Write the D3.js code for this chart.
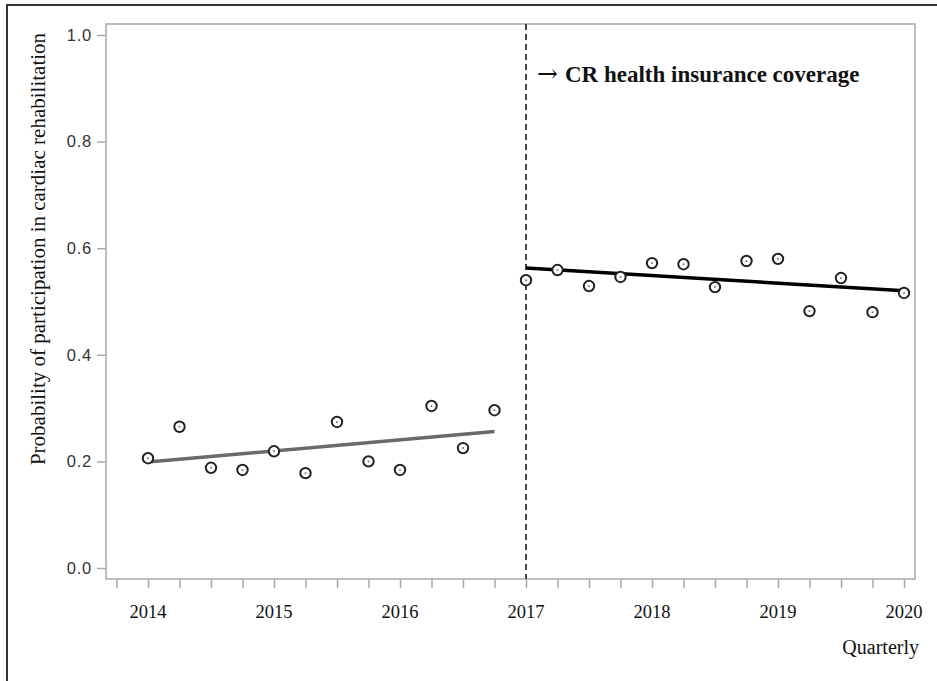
<!DOCTYPE html>
<html>
<head>
<meta charset="utf-8">
<script src="https://cdn.jsdelivr.net/npm/d3@7"></script>
<style>
  body { margin: 0; background: #fff; }
  svg { display: block; }
</style>
</head>
<body>
<div id="chart"></div>
<script>
// quarterly observations, before and after coverage (decimal year)
var preQuarters = [2014, 2014.25, 2014.5, 2014.75, 2015, 2015.25, 2015.5, 2015.75, 2016, 2016.25, 2016.5, 2016.75];
var preValues = [0.206, 0.265, 0.188, 0.184, 0.219, 0.178, 0.274, 0.200, 0.184, 0.304, 0.225, 0.296];
var postQuarters = [2017, 2017.25, 2017.5, 2017.75, 2018, 2018.25, 2018.5, 2018.75, 2019, 2019.25, 2019.5, 2019.75, 2020];
var postValues = [0.540, 0.559, 0.529, 0.546, 0.572, 0.570, 0.527, 0.576, 0.580, 0.482, 0.544, 0.480, 0.516];

// fitted trend endpoints
var preTrend = [[2014, 0.199], [2016.75, 0.256]];
var postTrend = [[2017, 0.563], [2020, 0.520]];

var yearTicks = [2014, 2015, 2016, 2017, 2018, 2019, 2020];
var quarterTicks = d3.range(2013.75, 2020.01, 0.25);
var yTicks = [0, 0.2, 0.4, 0.6, 0.8, 1.0];
var interventionYear = 2017;

var width = 937, height = 681;
var plot = { left: 106, top: 24, right: 915, bottom: 579 };
var serif = 'Liberation Serif, Times New Roman, serif';

var svg = d3.select('#chart').append('svg')
    .attr('width', width)
    .attr('height', height);

// outer frame (cut off at right and bottom)
svg.append('rect')
    .attr('x', 7).attr('y', 5)
    .attr('width', 960).attr('height', 700)
    .attr('fill', 'none')
    .attr('stroke', '#333')
    .attr('stroke-width', 2);

var x = d3.scaleLinear().domain([2014, 2020]).range([148, 904]);
var y = d3.scaleLinear().domain([0, 1]).range([568, 35]);

// plot frame
svg.append('rect')
    .attr('x', plot.left).attr('y', plot.top)
    .attr('width', plot.right - plot.left)
    .attr('height', plot.bottom - plot.top)
    .attr('fill', 'none')
    .attr('stroke', '#a8a8a8')
    .attr('stroke-width', 1.5);

// y axis
var yAxis = svg.append('g')
    .attr('transform', 'translate(' + plot.left + ',0)')
    .call(d3.axisLeft(y).tickValues(yTicks).tickSize(9).tickPadding(5)
      .tickFormat(d3.format('.1f')));
yAxis.select('.domain').remove();
yAxis.selectAll('.tick line').attr('stroke', '#a8a8a8').attr('stroke-width', 1.5);
yAxis.selectAll('.tick text')
    .attr('fill', '#333')
    .attr('font-family', 'Liberation Sans, Arial, sans-serif')
    .attr('font-size', 16.5)
    .style('letter-spacing', '0.8px');
yAxis.attr('font-size', 16.5);

// x axis: quarter ticks, year labels
var xAxis = svg.append('g')
    .attr('transform', 'translate(0,' + plot.bottom + ')')
    .call(d3.axisBottom(x).tickValues(quarterTicks).tickSize(9).tickFormat(''));
xAxis.select('.domain').remove();
xAxis.selectAll('.tick line').attr('stroke', '#a8a8a8').attr('stroke-width', 1.5);

svg.append('g').selectAll('text').data(yearTicks).enter().append('text')
    .attr('x', function(d) { return x(d); })
    .attr('y', 618)
    .attr('text-anchor', 'middle')
    .attr('font-family', serif)
    .attr('font-size', 18.5)
    .attr('fill', '#111')
    .text(function(d) { return d; });

svg.append('text')
    .attr('x', 919).attr('y', 654)
    .attr('text-anchor', 'end')
    .attr('font-family', serif)
    .attr('font-size', 20)
    .attr('fill', '#111')
    .text('Quarterly');

svg.append('text')
    .attr('transform', 'translate(45,249) rotate(-90)')
    .attr('text-anchor', 'middle')
    .attr('font-family', serif)
    .attr('font-size', 21)
    .attr('fill', '#111')
    .text('Probability of participation in cardiac rehabilitation');

// intervention line
svg.append('line')
    .attr('x1', x(interventionYear)).attr('x2', x(interventionYear))
    .attr('y1', plot.top).attr('y2', plot.bottom)
    .attr('stroke', '#444')
    .attr('stroke-width', 2)
    .attr('stroke-dasharray', '6,4');

var note = svg.append('text')
    .attr('x', x(interventionYear) + 11).attr('y', 82)
    .attr('font-family', serif)
    .attr('font-size', 23)
    .attr('font-weight', 'bold')
    .attr('fill', '#111');
note.append('tspan')
    .attr('font-family', 'DejaVu Serif, serif')
    .attr('font-weight', 'normal')
    .attr('font-size', 25)
    .text('\u2192');
note.append('tspan')
    .attr('dx', 7)
    .text('CR health insurance coverage');

// trend lines
var line = d3.line()
    .x(function(d) { return x(d[0]); })
    .y(function(d) { return y(d[1]); });

svg.append('path').datum(preTrend)
    .attr('d', line)
    .attr('fill', 'none')
    .attr('stroke', '#6a6a6a')
    .attr('stroke-width', 3.5);

svg.append('path').datum(postTrend)
    .attr('d', line)
    .attr('fill', 'none')
    .attr('stroke', '#000')
    .attr('stroke-width', 3.5);

// observed points
var points = preQuarters.map(function(q, i) { return { q: q, v: preValues[i] }; })
    .concat(postQuarters.map(function(q, i) { return { q: q, v: postValues[i] }; }));

var pts = svg.append('g').selectAll('g').data(points).enter().append('g')
    .attr('transform', function(d) { return 'translate(' + x(d.q) + ',' + y(d.v) + ')'; });
pts.append('circle')
    .attr('r', 5.2)
    .attr('fill', '#fff')
    .attr('stroke', '#222')
    .attr('stroke-width', 2);
pts.append('circle')
    .attr('r', 1)
    .attr('fill', '#777');
</script>
</body>
</html>
